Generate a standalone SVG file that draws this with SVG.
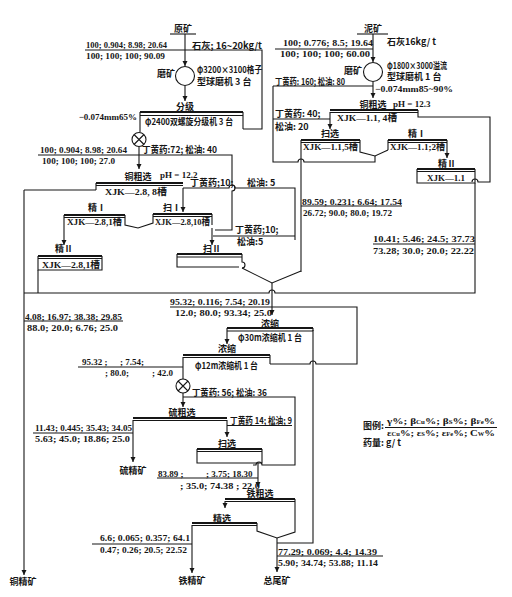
<svg xmlns="http://www.w3.org/2000/svg" width="512" height="597" viewBox="0 0 512 597">
<style>
.t{font-family:"Liberation Serif","Noto Sans CJK SC",serif;font-size:9px;font-weight:bold;fill:#161616}
.c{font-family:"Noto Sans CJK SC","Liberation Serif",sans-serif;font-size:9px;font-weight:bold;fill:#161616}
.m{text-anchor:middle}
.e{text-anchor:end}
.l{stroke:#161616;stroke-width:1.1;fill:none}
.k{stroke:#161616;stroke-width:2.2;fill:none}
.a{marker-end:url(#ar)}
</style>
<defs>
<marker id="ar" viewBox="0 0 6 6" refX="6" refY="3" markerWidth="5" markerHeight="6" markerUnits="userSpaceOnUse" orient="auto"><path d="M0,0 L6,3 L0,6 z" fill="#161616"/></marker>
</defs>
<rect width="512" height="597" fill="#fff"/>

<g id="connectors">
<path class="l" d="M170 34 H196"/>
<path class="l a" d="M185 34 V66"/>
<path class="l" d="M85 50 H262 V129 H243"/>
<path class="l a" d="M185 86 V101"/>
<path class="l" d="M140 112 V132"/>
<path class="l a" d="M139 147 V169"/>
<path class="l" d="M38 155 H232 V185 a3 3 0 0 1 0 6 V230 H215"/>
<path class="l" d="M96 190 H24"/>
<path class="l a" d="M24 190 V575"/>
<path class="l a" d="M183 188 V212"/>
<path class="l" d="M183 188 H229 a3 3 0 0 1 6 0 H295 V240"/>
<path class="l" d="M213 236 H295"/>
<path class="l a" d="M64 227 V245"/>
<path class="l a" d="M212 228 V245"/>
<path class="l" d="M38 270 V293"/>
<path class="l" d="M242 268 L272 283 L301 271"/>
<path class="l a" d="M272 283 V315"/>
<path class="l" d="M475 183 V293 H275 a3 3 0 0 0 -6 0 H24"/>
<path class="l" d="M357 34 H388"/>
<path class="l a" d="M373 34 V62"/>
<path class="l" d="M275 49 H373"/>
<path class="l a" d="M373 82 V98"/>
<path class="l" d="M273 86 H373"/>
<path class="l" d="M273 86 V162 H298 a3 3 0 0 1 6 0 H375 V156"/>
<path class="l" d="M273 119 H330"/>
<path class="l a" d="M330 112 V129"/>
<path class="l" d="M418 110 V117 H490 V182 H478 a3 3 0 0 0 -6 0"/>
<path class="l a" d="M447 150 V158"/>
<path class="l" d="M301 153 V272"/>
<path class="l" d="M301 206 H402"/>
<path class="l" d="M373 244 H475"/>
<path class="l" d="M24 321 H123"/>
<path class="l" d="M170 307 H357 V364 H316 a3 3 0 0 0 -6 0 H270"/>
<path class="l a" d="M227 331 V344"/>
<path class="l" d="M313 330 V543 H277"/>
<path class="l" d="M78 367 H183"/>
<path class="l" d="M183 357 V379"/>
<path class="l a" d="M183 393 V407"/>
<path class="l" d="M183 397 H295 V465 H262 a3 3 0 0 0 -6 0 H253"/>
<path class="l" d="M227 425.5 H292"/>
<path class="l a" d="M227 420 V437"/>
<path class="l a" d="M133 420 V462"/>
<path class="l" d="M33 433 H133"/>
<path class="l a" d="M258 463 V487"/>
<path class="l" d="M157 478 H258"/>
<path class="l a" d="M225 501 V508"/>
<path class="l a" d="M192 525 V573"/>
<path class="l" d="M92 544 H192"/>
<path class="l a" d="M277 538 V572"/>
<path class="l" d="M277 556 H383"/>
</g>

<g id="raw-ore">
<text class="c m" x="183" y="31.5">原矿</text>
<text class="t" x="86" y="48" textLength="81" lengthAdjust="spacingAndGlyphs">100; 0.904; 8.98; 20.64</text>
<text class="t" x="86" y="59" textLength="79" lengthAdjust="spacingAndGlyphs">100; 100; 100; 90.09</text>
<text class="c" x="192" y="48.5" textLength="70" lengthAdjust="spacingAndGlyphs">石灰; 16~20kg/t</text>
</g>
<g id="mill-1">
<circle class="l" cx="185" cy="76" r="9.5"/>
<text class="c e" x="175" y="77">磨矿</text>
<text class="c" x="197" y="73" font-size="8" textLength="65" lengthAdjust="spacingAndGlyphs">φ3200×3100格子</text>
<text class="c" x="197" y="84.5" font-size="8">型球磨机 3 台</text>
</g>
<g id="classifier">
<text class="c m" x="185" y="109.5">分级</text>
<path class="k" d="M140 112 H243"/>
<path class="l" d="M140 115.5 H243 M243 112 V129"/>
<text class="c" x="145" y="124.5" textLength="88" lengthAdjust="spacingAndGlyphs">φ2400双螺旋分级机 3 台</text>
<text class="t e" x="137" y="120">−0.074mm65%</text>
</g>
<g id="conditioner-1">
<circle class="l" cx="139" cy="139.5" r="7"/>
<path class="l" d="M134 134.5 L144 144.5 M144 134.5 L134 144.5"/>
<text class="t" x="40" y="153" textLength="87" lengthAdjust="spacingAndGlyphs">100; 0.904; 8.98; 20.64</text>
<text class="t" x="42" y="164" textLength="73" lengthAdjust="spacingAndGlyphs">100; 100; 100; 27.0</text>
<text class="c" x="142" y="153" textLength="75" lengthAdjust="spacingAndGlyphs">丁黄药:72; 松油: 40</text>
</g>
<g id="cu-rougher">
<text class="c m" x="138" y="179.5">铜粗选</text>
<text class="t" x="160" y="178">pH = 12.2</text>
<path class="k" d="M96 183 H183"/>
<path class="l" d="M96 185.5 H183 M96 183 V190"/>
<text class="t" x="105" y="195" textLength="62" lengthAdjust="spacingAndGlyphs">XJK—2.8, 8槽</text>
<text class="c" x="190" y="185.5">丁黄药;10;</text>
<text class="c" x="247" y="185.5">松油: 5</text>
</g>
<g id="cu-cleaner-1">
<text class="c m" x="97" y="210.5">精Ⅰ</text>
<path class="k" d="M64 215 H125"/>
<path class="l" d="M64 217.5 H125 M64 215 V227 M125 215 V225 L138 228 L153 223 V214"/>
<text class="t" x="67" y="225" textLength="55" lengthAdjust="spacingAndGlyphs">XJK—2.8,1槽</text>
</g>
<g id="cu-scavenger-1">
<text class="c m" x="172" y="210.5">扫Ⅰ</text>
<path class="k" d="M153 214 H212"/>
<path class="l" d="M153 216.5 H212 M212 214 V225"/>
<text class="t" x="155" y="225" textLength="55" lengthAdjust="spacingAndGlyphs">XJK—2.8,10槽</text>
<text class="c" x="235" y="233">丁黄药;10;</text>
<text class="c" x="237" y="245">松油:5</text>
</g>
<g id="cu-cleaner-2">
<text class="c m" x="64" y="251.5">精Ⅱ</text>
<path class="k" d="M38 256 H102"/>
<path class="l" d="M38 258.5 H102 M38 256 V270 H102 V256"/>
<text class="t" x="42" y="268" textLength="58" lengthAdjust="spacingAndGlyphs">XJK—2.8,1槽</text>
</g>
<g id="cu-scavenger-2">
<text class="c m" x="212" y="251.5">扫Ⅱ</text>
<path class="k" d="M177 254 H242"/>
<path class="l" d="M177 257 H242 M177 254 V267 H239 M242 254 V262 a3 3 0 0 1 0 6"/>
</g>

<g id="slime-ore">
<text class="c m" x="373" y="31.5">泥矿</text>
<text class="c" x="387" y="44.5">石灰16kg/ t</text>
<text class="t" x="283" y="46" textLength="90" lengthAdjust="spacingAndGlyphs">100; 0.776; 8.5; 19.64</text>
<text class="t" x="280" y="57" textLength="90" lengthAdjust="spacingAndGlyphs">100; 100; 100; 60.00</text>
</g>
<g id="mill-2">
<circle class="l" cx="373" cy="72" r="9.5"/>
<text class="c e" x="362" y="73.5" font-size="8">磨矿</text>
<text class="c" x="387" y="68.5" font-size="8" textLength="60" lengthAdjust="spacingAndGlyphs">φ1800×3000溢流</text>
<text class="c" x="387" y="80" font-size="8">型球磨机 1 台</text>
<text class="c" x="275" y="85" font-size="8" textLength="70" lengthAdjust="spacingAndGlyphs">丁黄药: 160; 松油: 80</text>
<text class="t" x="375" y="91.5" textLength="78" lengthAdjust="spacingAndGlyphs">−0.074mm85~90%</text>
</g>
<g id="slime-rougher">
<text class="c m" x="373" y="107.5">铜粗选</text>
<text class="t" x="393" y="107">pH = 12.3</text>
<path class="k" d="M330 110 H418"/>
<path class="l" d="M330 112.5 H418"/>
<text class="t" x="337" y="121" textLength="60" lengthAdjust="spacingAndGlyphs">XJK—1.1, 4槽</text>
<text class="c" x="275" y="117">丁黄药: 40;</text>
<text class="c" x="275" y="130">松油: 20</text>
</g>
<g id="slime-scavenger">
<text class="c m" x="330" y="136.5">扫选</text>
<path class="k" d="M301 140 H360"/>
<path class="l" d="M301 142.5 H360 M301 140 V153 M360 140 V152 L375 156 L388 150"/>
<text class="t" x="303" y="150" textLength="55" lengthAdjust="spacingAndGlyphs">XJK—1.1,5槽</text>
<text class="t" x="302" y="204.5" textLength="100" lengthAdjust="spacingAndGlyphs">89.59; 0.231; 6.64; 17.54</text>
<text class="t" x="303" y="215.5" textLength="89" lengthAdjust="spacingAndGlyphs">26.72; 90.0; 80.0; 19.72</text>
</g>
<g id="slime-cleaner-1">
<text class="c m" x="417" y="136.5">精Ⅰ</text>
<path class="k" d="M388 140 H447"/>
<path class="l" d="M388 142.5 H447 M388 140 V150 M447 140 V150"/>
<text class="t" x="390" y="150" textLength="55" lengthAdjust="spacingAndGlyphs">XJK—1.1;2槽</text>
</g>
<g id="slime-cleaner-2">
<text class="c m" x="447" y="166.5">精Ⅱ</text>
<path class="k" d="M417 169 H475"/>
<path class="l" d="M417 171.5 H475 M417 169 V183 H475 V169"/>
<text class="t" x="427" y="180.5" textLength="38" lengthAdjust="spacingAndGlyphs">XJK—1.1</text>
<text class="t" x="373" y="242" textLength="102" lengthAdjust="spacingAndGlyphs">10.41; 5.46; 24.5; 37.73</text>
<text class="t" x="373" y="254" textLength="101" lengthAdjust="spacingAndGlyphs">73.28; 30.0; 20.0; 22.22</text>
</g>

<g id="combined-feed">
<text class="t" x="170" y="305" textLength="100" lengthAdjust="spacingAndGlyphs">95.32; 0.116; 7.54; 20.19</text>
<text class="t" x="175" y="316" textLength="97" lengthAdjust="spacingAndGlyphs">12.0; 80.0; 93.34; 25.0</text>
<text class="t" x="25" y="319.5" textLength="97" lengthAdjust="spacingAndGlyphs">4.08; 16.97; 38.38; 29.85</text>
<text class="t" x="27" y="330.5" textLength="91" lengthAdjust="spacingAndGlyphs">88.0; 20.0; 6.76; 25.0</text>
</g>
<g id="thickener-30">
<text class="c m" x="270" y="326.5">浓缩</text>
<path class="k" d="M227 328 H313"/>
<path class="l" d="M227 331 H313 M227 328 V331 M313 328 V331"/>
<text class="c" x="238" y="340.5" textLength="64" lengthAdjust="spacingAndGlyphs">φ30m浓缩机 1 台</text>
</g>
<g id="thickener-12">
<text class="c m" x="227" y="352">浓缩</text>
<path class="k" d="M183 355 H270"/>
<path class="l" d="M183 357.5 H270 M270 355 V364"/>
<text class="c" x="195" y="368.5" textLength="63" lengthAdjust="spacingAndGlyphs">φ12m浓缩机 1 台</text>
<text class="t" x="82" y="365">95.32 ;</text>
<text class="t" x="120" y="365">; 7.54;</text>
<text class="t" x="105" y="376">; 80.0;</text>
<text class="t" x="152" y="376">; 42.0</text>
</g>
<g id="conditioner-2">
<circle class="l" cx="183" cy="386" r="7"/>
<path class="l" d="M178 381 L188 391 M188 381 L178 391"/>
<text class="c" x="192" y="395.5" textLength="75" lengthAdjust="spacingAndGlyphs">丁黄药: 56; 松油: 36</text>
</g>
<g id="s-rougher">
<text class="c m" x="182" y="416">硫粗选</text>
<path class="k" d="M133 418 H227"/>
<path class="l" d="M133 420.5 H227"/>
<text class="c" x="230" y="423.5" textLength="62" lengthAdjust="spacingAndGlyphs">丁黄药 14; 松油; 9</text>
<text class="t" x="35" y="431" textLength="97" lengthAdjust="spacingAndGlyphs">11.43; 0.445; 35.43; 34.05</text>
<text class="t" x="35" y="441.5" textLength="95" lengthAdjust="spacingAndGlyphs">5.63; 45.0; 18.86; 25.0</text>
<text class="c m" x="133" y="473.5">硫精矿</text>
</g>
<g id="s-scavenger">
<text class="c m" x="227" y="446.5">扫选</text>
<path class="k" d="M197 449 H262"/>
<path class="l" d="M197 451.5 H262 M197 449 V463 H262 V449"/>
<text class="t" x="158" y="477">83.89 ;</text>
<text class="t" x="206" y="477">; 3.75; 18.30</text>
<text class="t" x="180" y="489" textLength="80" lengthAdjust="spacingAndGlyphs">; 35.0; 74.38 ; 22.0</text>
</g>
<g id="fe-rougher">
<text class="c m" x="260" y="497">铁粗选</text>
<path class="k" d="M225 499 H295"/>
<path class="l" d="M225 501.5 H295 M295 499 V532 L277 538 L257 531 V523"/>
</g>
<g id="fe-cleaner">
<text class="c m" x="222" y="521.5">精选</text>
<path class="k" d="M192 523 H257"/>
<path class="l" d="M192 525.5 H257"/>
<text class="t" x="100" y="540.5" textLength="90" lengthAdjust="spacingAndGlyphs">6.6; 0.065; 0.357; 64.1</text>
<text class="t" x="100" y="552.5" textLength="87" lengthAdjust="spacingAndGlyphs">0.47; 0.26; 20.5; 22.52</text>
</g>
<g id="products">
<text class="c m" x="23" y="585">铜精矿</text>
<text class="c m" x="192" y="584">铁精矿</text>
<text class="c m" x="277" y="584">总尾矿</text>
<text class="t" x="278" y="554.5" textLength="99" lengthAdjust="spacingAndGlyphs">77.29; 0.069; 4.4; 14.39</text>
<text class="t" x="278" y="566" textLength="100" lengthAdjust="spacingAndGlyphs">5.90; 34.74; 53.88; 11.14</text>
</g>
<g id="legend">
<text class="c" x="363" y="429">图例:</text>
<text class="t" x="387" y="424" font-size="7.5" textLength="108" lengthAdjust="spacingAndGlyphs">γ%; β<tspan font-size="5.5">Cu</tspan>%; β<tspan font-size="5.5">S</tspan>%; β<tspan font-size="5.5">Fe</tspan>%</text>
<path class="l" d="M385 427.5 H497"/>
<text class="t" x="387" y="435.5" font-size="7.5" textLength="108" lengthAdjust="spacingAndGlyphs">ε<tspan font-size="5.5">Cu</tspan>%; ε<tspan font-size="5.5">S</tspan>%; ε<tspan font-size="5.5">Fe</tspan>%; C<tspan font-size="5.5">W</tspan>%</text>
<text class="c" x="363" y="446">药量: g/ t</text>
</g>
</svg>
